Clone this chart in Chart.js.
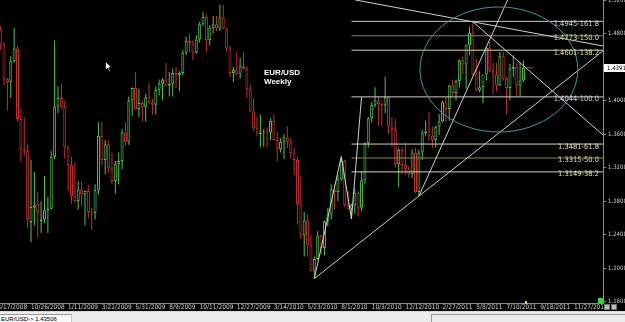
<!DOCTYPE html>
<html><head><meta charset="utf-8">
<script src="https://cdn.jsdelivr.net/npm/chart.js@4.4.0/dist/chart.umd.min.js"></script>
<style>
html,body{margin:0;padding:0;background:#000;width:625px;height:322px;overflow:hidden}
#wrap{position:absolute;left:0;top:0;width:625px;height:311px;background:#000}
#c{display:block;position:absolute;left:0;top:0}
.ttl{position:absolute;left:264px;top:68px;color:#fff;font:bold 8px/9px 'Liberation Sans',Arial,sans-serif;white-space:nowrap}
#status{position:absolute;left:0;top:311px;width:625px;height:11px;background:#ececec;border-top:1px solid #d8d8d8;box-sizing:border-box}
#sym{position:absolute;left:0;top:2px;width:72px;height:9px;background:#f8f8f8;border-top:1px solid #9a9a9a;border-right:1px solid #c8c8c8;box-sizing:border-box;font:6px/8px 'Liberation Sans',Arial,sans-serif;color:#000;padding-left:1px;white-space:nowrap}
#pan{position:absolute;left:431px;top:2px;width:194px;height:9px;border-top:1px solid #9a9a9a;border-left:1px solid #9a9a9a;box-sizing:border-box}
.btn{position:absolute;top:304px;width:6px;height:6px;background:#bdbdbd;border:1px solid #707070;box-sizing:border-box}
#gsq{position:absolute;left:598px;top:298px;width:5px;height:5px;background:#2ee02e}
#ymk{position:absolute;left:525px;top:301px;width:2px;height:3px;background:#e8e040}
#cur{position:absolute;left:105px;top:61px}
</style></head><body>
<div id="wrap">
<canvas id="c" width="625" height="311"></canvas>
<div class="ttl">EUR/USD<br>Weekly</div>
<svg id="cur" width="8" height="12" viewBox="0 0 8 12"><path d="M0.5 0.5 L0.5 9 L2.5 7 L4 10.5 L5.2 10 L3.8 6.6 L6.5 6.6 Z" fill="#fff" stroke="#000" stroke-width="0.7"/></svg>
<div id="gsq"></div><div id="ymk"></div>
<div class="btn" style="left:604px"></div><div class="btn" style="left:611px"></div>
</div>
<div id="status"><div id="sym">EUR/USD-&gt; 1.43506</div><div id="pan"></div></div>
<script>
// ---------- DATA ----------
const dates = [
'2008-08-24','2008-08-31','2008-09-07','2008-09-14','2008-09-21','2008-09-28','2008-10-05','2008-10-12','2008-10-19','2008-10-26','2008-11-02','2008-11-09','2008-11-16','2008-11-23','2008-11-30','2008-12-07','2008-12-14','2008-12-21','2008-12-28',
'2009-01-04','2009-01-11','2009-01-18','2009-01-25','2009-02-01','2009-02-08','2009-02-15','2009-02-22','2009-03-01','2009-03-08','2009-03-15','2009-03-22','2009-03-29','2009-04-05','2009-04-12','2009-04-19','2009-04-26','2009-05-03','2009-05-10','2009-05-17','2009-05-24','2009-05-31','2009-06-07','2009-06-14','2009-06-21','2009-06-28','2009-07-05','2009-07-12','2009-07-19','2009-07-26','2009-08-02','2009-08-09','2009-08-16','2009-08-23','2009-08-30','2009-09-06','2009-09-13','2009-09-20','2009-09-27','2009-10-04','2009-10-11','2009-10-18','2009-10-25','2009-11-01','2009-11-08','2009-11-15','2009-11-22','2009-11-29','2009-12-06','2009-12-13','2009-12-20','2009-12-27',
'2010-01-03','2010-01-10','2010-01-17','2010-01-24','2010-01-31','2010-02-07','2010-02-14','2010-02-21','2010-02-28','2010-03-07','2010-03-14','2010-03-21','2010-03-28','2010-04-04','2010-04-11','2010-04-18','2010-04-25','2010-05-02','2010-05-09','2010-05-16','2010-05-23','2010-05-30','2010-06-06','2010-06-13','2010-06-20','2010-06-27','2010-07-04','2010-07-11','2010-07-18','2010-07-25','2010-08-01','2010-08-08','2010-08-15','2010-08-22','2010-08-29','2010-09-05','2010-09-12','2010-09-19','2010-09-26','2010-10-03','2010-10-10','2010-10-17','2010-10-24','2010-10-31','2010-11-07','2010-11-14','2010-11-21','2010-11-28','2010-12-05','2010-12-12','2010-12-19','2010-12-26',
'2011-01-02','2011-01-09','2011-01-16','2011-01-23','2011-01-30','2011-02-06','2011-02-13','2011-02-20','2011-02-27','2011-03-06','2011-03-13','2011-03-20','2011-03-27','2011-04-03','2011-04-10','2011-04-17','2011-04-24','2011-05-01','2011-05-08','2011-05-15','2011-05-22','2011-05-29','2011-06-05','2011-06-12','2011-06-19','2011-06-26','2011-07-03','2011-07-10','2011-07-17','2011-07-24','2011-07-31','2011-08-07','2011-08-14'];

const opens = [
1.4850,1.4670,1.4260,1.4220,1.4470,1.4620,1.3780,1.3420,1.3400,1.2550,1.2720,1.2770,1.2560,1.2580,1.2690,1.2710,1.3330,1.3930,1.4030,
1.3920,1.3440,1.3230,1.2860,1.2800,1.2940,1.2880,1.2920,1.2670,1.2660,1.2930,1.3580,1.3290,1.3480,1.3190,1.3040,1.3240,1.3280,1.3620,1.3510,1.4000,1.4150,1.3900,1.3970,1.3920,1.4040,1.3980,1.3950,1.4130,1.4200,1.4250,1.4180,1.4200,1.4330,1.4300,1.4330,1.4570,1.4710,1.4680,1.4570,1.4730,1.4910,1.5000,1.4720,1.4870,1.4910,1.4860,1.4990,1.4860,1.4620,1.4330,1.4370,
1.4320,1.4410,1.4380,1.4140,1.3870,1.3670,1.3600,1.3620,1.3630,1.3620,1.3760,1.3530,1.3420,1.3510,1.3560,1.3510,1.3370,1.3290,1.2760,1.2390,1.2570,1.2270,1.1970,1.2110,1.2390,1.2240,1.2560,1.2640,1.2940,1.2910,1.3060,1.3280,1.2750,1.2710,1.2750,1.2900,1.2720,1.3050,1.3490,1.3790,1.3950,1.4000,1.3960,1.3940,1.4040,1.3690,1.3660,1.3240,1.3410,1.3230,1.3180,1.3120,
1.3380,1.2910,1.3380,1.3610,1.3630,1.3580,1.3530,1.3690,1.3750,1.3980,1.3900,1.4180,1.4090,1.4230,1.4480,1.4430,1.4660,1.4810,1.4310,1.4120,1.4160,1.4310,1.4630,1.4350,1.4310,1.4180,1.4530,1.4260,1.4150,1.4380,1.4400,1.4180,1.4240];

const highs = [
1.4890,1.4700,1.4270,1.4530,1.4867,1.4650,1.3900,1.3800,1.3480,1.3290,1.3150,1.2910,1.2800,1.3100,1.2850,1.3400,1.4720,1.4170,1.4200,
1.4000,1.3460,1.3330,1.3260,1.3040,1.3030,1.2900,1.2990,1.2720,1.3000,1.3740,1.3740,1.3530,1.3520,1.3380,1.3280,1.3380,1.3660,1.3740,1.4050,1.4160,1.4340,1.4140,1.4000,1.4080,1.4220,1.4020,1.4170,1.4250,1.4270,1.4450,1.4340,1.4380,1.4400,1.4350,1.4600,1.4760,1.4800,1.4720,1.4780,1.4940,1.5060,1.5030,1.4900,1.5010,1.5010,1.5144,1.5140,1.4870,1.4650,1.4400,1.4580,
1.4510,1.4580,1.4400,1.4190,1.4030,1.3800,1.3830,1.3660,1.3680,1.3790,1.3840,1.3630,1.3550,1.3600,1.3690,1.3550,1.3440,1.3330,1.3090,1.2670,1.2640,1.2400,1.2140,1.2440,1.2400,1.2570,1.2720,1.3000,1.3000,1.3110,1.3333,1.3290,1.2920,1.2770,1.2950,1.2920,1.3160,1.3500,1.3800,1.3980,1.4160,1.4050,1.3980,1.4282,1.4050,1.3800,1.3780,1.3430,1.3440,1.3500,1.3220,1.3420,
1.3440,1.3410,1.3650,1.3760,1.3860,1.3690,1.3700,1.3840,1.4000,1.4040,1.4190,1.4250,1.4250,1.4490,1.4520,1.4670,1.4880,1.4940,1.4500,1.4350,1.4240,1.4640,1.4700,1.4450,1.4450,1.4580,1.4580,1.4280,1.4440,1.4540,1.4450,1.4460,1.4480];

const lows = [
1.4600,1.4180,1.3880,1.4030,1.4450,1.3750,1.3260,1.3340,1.2480,1.2310,1.2510,1.2370,1.2420,1.2540,1.2420,1.2700,1.3300,1.3850,1.3900,
1.3310,1.2920,1.2770,1.2780,1.2700,1.2740,1.2510,1.2600,1.2455,1.2580,1.2880,1.3230,1.3120,1.3140,1.3000,1.2890,1.3000,1.3180,1.3460,1.3470,1.3820,1.3900,1.3800,1.3750,1.3750,1.3960,1.3830,1.3830,1.4060,1.4000,1.4170,1.4050,1.4050,1.4150,1.4110,1.4300,1.4540,1.4580,1.4480,1.4560,1.4690,1.4890,1.4580,1.4660,1.4800,1.4830,1.4830,1.4850,1.4580,1.4280,1.4220,1.4300,
1.4260,1.4370,1.4030,1.3860,1.3640,1.3570,1.3440,1.3450,1.3440,1.3530,1.3520,1.3270,1.3380,1.3300,1.3430,1.3310,1.3110,1.2520,1.2350,1.2140,1.2140,1.1960,1.1876,1.2100,1.2160,1.2150,1.2500,1.2580,1.2700,1.2800,1.3040,1.2730,1.2700,1.2588,1.2650,1.2620,1.2680,1.3000,1.3440,1.3740,1.3920,1.3700,1.3700,1.3850,1.3600,1.3450,1.3200,1.2969,1.3120,1.3120,1.3080,1.3080,
1.2900,1.2860,1.3290,1.3580,1.3520,1.3430,1.3440,1.3590,1.3740,1.3740,1.3760,1.4050,1.4000,1.4160,1.4310,1.4140,1.4540,1.4300,1.4110,1.4100,1.3968,1.4240,1.4340,1.4070,1.4110,1.4170,1.4240,1.3837,1.4000,1.4280,1.4050,1.4050,1.4220];

const closes = [
1.4670,1.4260,1.4220,1.4470,1.4620,1.3780,1.3420,1.3400,1.2580,1.2730,1.2750,1.2670,1.2580,1.2690,1.2710,1.3330,1.3930,1.4030,1.3920,
1.3440,1.3230,1.2860,1.2800,1.2940,1.2880,1.2920,1.2670,1.2660,1.2930,1.3580,1.3290,1.3480,1.3190,1.3040,1.3240,1.3280,1.3620,1.3510,1.4000,1.4150,1.3900,1.3970,1.3920,1.4040,1.3980,1.3950,1.4130,1.4200,1.4250,1.4180,1.4200,1.4330,1.4300,1.4330,1.4570,1.4710,1.4680,1.4570,1.4730,1.4910,1.5000,1.4720,1.4870,1.4910,1.4860,1.4990,1.4860,1.4620,1.4330,1.4370,1.4320,
1.4410,1.4380,1.4140,1.3870,1.3670,1.3620,1.3620,1.3630,1.3620,1.3760,1.3530,1.3420,1.3510,1.3560,1.3510,1.3370,1.3290,1.2760,1.2390,1.2570,1.2270,1.1970,1.2110,1.2390,1.2240,1.2560,1.2640,1.2940,1.2910,1.3060,1.3280,1.2750,1.2710,1.2750,1.2900,1.2720,1.3050,1.3490,1.3790,1.3950,1.4000,1.3960,1.3940,1.4040,1.3690,1.3660,1.3240,1.3410,1.3230,1.3180,1.3120,1.3380,
1.2910,1.3380,1.3610,1.3630,1.3580,1.3530,1.3690,1.3750,1.3980,1.3900,1.4180,1.4090,1.4230,1.4480,1.4430,1.4660,1.4810,1.4310,1.4120,1.4160,1.4310,1.4630,1.4350,1.4310,1.4180,1.4530,1.4260,1.4150,1.4380,1.4400,1.4180,1.4240,1.4391];

const xTickLabels = ['8/17/2008','10/26/2008','1/11/2009','3/22/2009','5/31/2009','8/9/2009','10/11/2009','12/27/2009','3/14/2010','5/23/2010','8/1/2010','10/3/2010','12/12/2010','2/27/2011','5/8/2011','7/10/2011','9/18/2011','11/27/2011'];
const yTicks = [1.16,1.20,1.24,1.28,1.32,1.36,1.40,1.44,1.48,1.52];
const lastPrice = 1.4391;

const fibLevels = [161.8,150.0,138.2,100.0,61.8,50.0,38.2];
const fibPrices = [1.4945,1.4773,1.4601,1.4044,1.3481,1.3315,1.3149];
const fibStart = '2010-08-22';

const zigzag = [['2010-06-06',1.1876],['2010-08-01',1.3333],['2010-08-22',1.2588],['2010-09-12',1.4044]];
const supportLine = [['2010-06-06',1.1876],['2012-01-29',1.4606]];
const steepLine = [['2011-01-09',1.2860],['2011-07-24',1.5352]];
const upperLine = [['2010-08-29',1.5202],['2012-01-29',1.4648]];
const fallLine = [['2011-05-01',1.4940],['2012-01-29',1.3575]];
const priceMark = [['2011-08-21',1.4391],['2011-09-04',1.4391]];
const ellipseCenter = ['2011-06-24',1.4371];
const ellipseRadius = [23.4,0.0746]; // weeks, price

// ---------- HELPERS ----------
const W0 = Date.UTC(2008,9,26);
function wk(d){const p=d.split('-');return Math.round((Date.UTC(+p[0],+p[1]-1,+p[2])-W0)/864e5)/7;}
function wkUS(s){const p=s.split('/');return Math.round((Date.UTC(+p[2],+p[0]-1,+p[1])-W0)/864e5)/7;}
const X_MIN=-9.19, X_MAX=169.58;
const GREEN='#4ec64e', RED='#c43030';
const FONT="'Liberation Sans Narrow','DejaVu Sans Condensed','Liberation Sans',sans-serif";
const xs = dates.map(wk);
const isUp = i => closes[i] >= opens[i];
const xTickVals = xTickLabels.map(wkUS);
const xTickMap = new Map(xTickVals.map((v,i)=>[v,xTickLabels[i]]));

const lineDs = (pts,color,w) => ({type:'line',data:pts.map(p=>({x:wk(p[0]),y:p[1]})),borderColor:color,borderWidth:w||1,pointRadius:0,tension:0,fill:false,order:1});

const fibLineColors=['#c8c8c8','#8a8a48','#d6d6a6','#d0d0d0','#d6d6a6','#8a8a48','#d6d6a6'];
const fibTextColors=['#d8d8d8','#e0e0a0','#e0e0b0','#d8d8d8','#e0e0b0','#e0e0b0','#e0e0b0'];

const datasets=[
 {type:'bar',label:'body',data:xs.map((x,i)=>({x,y:[opens[i],closes[i]]})),backgroundColor:'#000',
  borderColor:c=>isUp(c.dataIndex)?GREEN:RED,borderWidth:1,borderSkipped:false,barThickness:3,grouped:false,inflateAmount:0,order:5},
 {type:'bar',label:'wick',data:xs.map((x,i)=>({x,y:[lows[i],highs[i]]})),
  backgroundColor:c=>isUp(c.dataIndex)?GREEN:RED,borderWidth:0,barThickness:1,grouped:false,inflateAmount:0,order:6},
 lineDs(zigzag,'#cfcfcf'),
 lineDs(supportLine,'#cfcfcf'),
 lineDs(steepLine,'#cfcfcf'),
 lineDs(upperLine,'#cfcfcf'),
 lineDs(fallLine,'#cfcfcf'),
 lineDs(priceMark,'#d03030')
];
fibPrices.forEach((p,i)=>{
 datasets.push({type:'line',data:[{x:wk(fibStart),y:p},{x:X_MAX,y:p}],borderColor:fibLineColors[i],borderWidth:1,pointRadius:0,fill:false,order:2});
});

const overlay={id:'overlay',afterDatasetsDraw(chart){
 const ctx=chart.ctx,xS=chart.scales.x,yS=chart.scales.y,a=chart.chartArea;
 ctx.save();
 ctx.beginPath();ctx.rect(a.left,a.top,a.right-a.left,a.bottom-a.top);ctx.clip();
 // ellipse
 const cx=xS.getPixelForValue(wk(ellipseCenter[0])),cy=yS.getPixelForValue(ellipseCenter[1]);
 const rx=Math.abs(xS.getPixelForValue(wk(ellipseCenter[0])+ellipseRadius[0])-cx);
 const ry=Math.abs(yS.getPixelForValue(ellipseCenter[1]+ellipseRadius[1])-cy);
 ctx.strokeStyle='#3a9c9c';ctx.lineWidth=1;ctx.beginPath();ctx.ellipse(cx,cy,rx,ry,0,0,Math.PI*2);ctx.stroke();
 // fib labels
 ctx.font='7.5px '+FONT;ctx.textAlign='right';ctx.textBaseline='middle';
 fibPrices.forEach((p,i)=>{
  ctx.fillStyle=fibTextColors[i];
  ctx.fillText(p.toFixed(4)+'-'+fibLevels[i].toFixed(1),a.right-4,yS.getPixelForValue(p)+2.5);
 });
 ctx.restore();
 // last price box
 ctx.save();
 const py=yS.getPixelForValue(lastPrice);
 ctx.fillStyle='#fff';ctx.fillRect(a.right+1,Math.round(py)-4,21,8);
 ctx.fillStyle='#000';ctx.font='6px '+FONT;ctx.textAlign='left';ctx.textBaseline='middle';
 ctx.fillText(lastPrice.toFixed(4),a.right+4,Math.round(py)+0.5);
 ctx.restore();
}};

new Chart(document.getElementById('c'),{
 type:'bar',
 data:{datasets},
 plugins:[overlay],
 options:{
  responsive:false,animation:false,devicePixelRatio:1,
  layout:{padding:0},
  plugins:{legend:{display:false},tooltip:{enabled:false}},
  scales:{
   x:{type:'linear',position:'bottom',min:X_MIN,max:X_MAX,offset:false,
      grid:{drawOnChartArea:false,drawTicks:false},
      border:{color:'#8c8c8c'},
      afterBuildTicks:s=>{s.ticks=xTickVals.map(v=>({value:v}));},
      afterFit:s=>{s.height=8;s.paddingLeft=0;s.paddingRight=0;},
      ticks:{autoSkip:false,maxRotation:0,minRotation:0,align:'start',padding:0,color:'#cfcfcf',
        font:{family:FONT,size:6.5},callback:v=>xTickMap.get(Math.round(v*7)/7)||''}},
   y:{type:'linear',position:'right',min:1.15845,max:1.52,
      grid:{drawOnChartArea:false,drawTicks:true,tickLength:3,color:'#8c8c8c'},
      border:{color:'#8c8c8c'},
      afterBuildTicks:s=>{s.ticks=yTicks.map(v=>({value:v}));},
      afterFit:s=>{s.width=22;s.paddingTop=0;s.paddingBottom=0;},
      ticks:{padding:2,color:'#cfcfcf',font:{family:FONT,size:6},callback:v=>v.toFixed(4)}}
  }
 }
});
</script>
</body></html>
